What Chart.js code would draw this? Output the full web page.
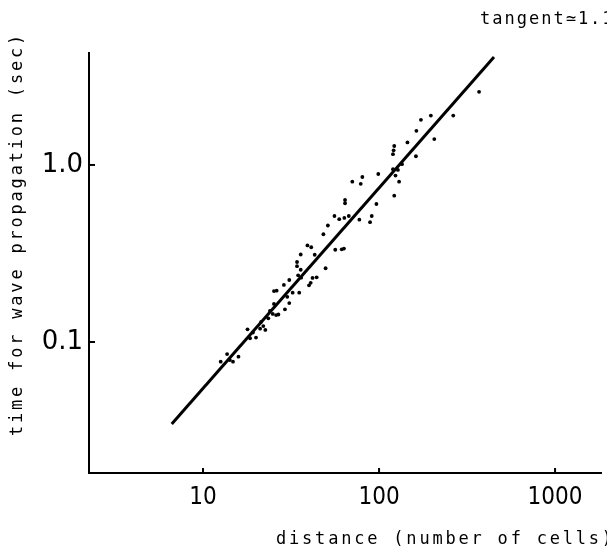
<!DOCTYPE html>
<html>
<head>
<meta charset="utf-8">
<script src="https://cdn.jsdelivr.net/npm/chart.js@4/dist/chart.umd.min.js"></script>
<style>
  body { margin: 0; background: #fff; }
  #wrap { width: 607px; height: 554px; }
</style>
</head>
<body>
<div id="wrap"><canvas id="waveChart" width="607" height="554"></canvas></div>
<script>
// measured points: distance (cells) / time (sec)
const distance = [
  64.1, 64.1, 55.8, 59.4, 63.5, 67.3, 51.2, 48.3, 39.2, 41.2,
  56.4, 61.4, 63.2, 35.9, 43.1, 34.2, 34.2, 49.7, 35.9, 34.7,
  36.1, 44.2, 41.9, 30.9, 40.9, 40.0, 28.8, 25.3, 26.2, 35.2,
  32.3, 30.1, 30.9, 29.2, 25.3, 24.0, 24.9, 26.0, 26.8, 23.5,
  21.4, 22.0, 21.1, 22.6, 17.9, 19.2, 18.5, 20.0, 13.7, 15.9,
  12.6, 14.8, 14.2,
  370, 264, 197, 173, 163, 206, 145, 122, 121, 120,
  162, 135, 120, 128, 99, 124, 80.4, 70.5, 78.7, 130,
  122, 96.6, 90.9, 77.3, 88.9
];
const time = [
  0.634, 0.608, 0.515, 0.494, 0.502, 0.515, 0.455, 0.406, 0.351, 0.343,
  0.332, 0.334, 0.337, 0.312, 0.311, 0.283, 0.268, 0.261, 0.256, 0.238,
  0.231, 0.232, 0.230, 0.224, 0.216, 0.209, 0.210, 0.194, 0.195, 0.190,
  0.190, 0.180, 0.166, 0.153, 0.164, 0.150, 0.144, 0.142, 0.143, 0.136,
  0.130, 0.123, 0.119, 0.117, 0.118, 0.113, 0.105, 0.106, 0.0855, 0.0826,
  0.0774, 0.0774, 0.0791,
  2.59, 1.90, 1.90, 1.80, 1.56, 1.40, 1.34, 1.28, 1.21, 1.15,
  1.12, 1.01, 0.946, 0.937, 0.889, 0.871, 0.855, 0.805, 0.782, 0.805,
  0.671, 0.602, 0.515, 0.491, 0.475
];

// fitted line (tangent ~1.1)
const fitX = [6.64, 450];
const fitY = [0.0344, 4.07];

// tick labels
const xTicks = [10, 100, 1000];
const yTicks = [0.1, 1];
const yTickText = ['0.1', '1.0'];

const scatterPts = distance.map((d, i) => ({ x: d, y: time[i] }));
const fitPts = fitX.map((d, i) => ({ x: d, y: fitY[i] }));

// inward tick marks + axis titles
const paperPlugin = {
  id: 'paper',
  afterDraw(chart) {
    const ctx = chart.ctx;
    const xs = chart.scales.x, ys = chart.scales.y;
    const area = chart.chartArea;
    ctx.save();
    ctx.strokeStyle = '#000';
    ctx.lineWidth = 2;
    xTicks.forEach(v => {
      const px = xs.getPixelForValue(v);
      ctx.beginPath();
      ctx.moveTo(px, area.bottom);
      ctx.lineTo(px, area.bottom - 5);
      ctx.stroke();
    });
    yTicks.forEach(v => {
      const py = ys.getPixelForValue(v);
      ctx.beginPath();
      ctx.moveTo(area.left, py);
      ctx.lineTo(area.left + 6, py);
      ctx.stroke();
    });

    ctx.fillStyle = '#000';
    ctx.font = '17px "DejaVu Sans Mono", monospace';
    ctx.letterSpacing = '2.8px';
    ctx.textBaseline = 'alphabetic';

    // x title
    ctx.textAlign = 'left';
    ctx.fillText('distance (number of cells)', 276, 544);

    // tangent note
    ctx.letterSpacing = '2px';
    ctx.fillText('tangent\u22431.1', 480, 24);

    // y title
    ctx.letterSpacing = '2.8px';
    ctx.translate(22, 234);
    ctx.rotate(-Math.PI / 2);
    ctx.textAlign = 'center';
    ctx.fillText('time for wave propagation (sec)', 0, 0);
    ctx.restore();
  }
};

new Chart(document.getElementById('waveChart').getContext('2d'), {
  type: 'scatter',
  data: {
    datasets: [
      {
        data: scatterPts,
        backgroundColor: '#000',
        borderColor: '#000',
        pointRadius: 1.9,
        pointBorderWidth: 0
      },
      {
        type: 'line',
        data: fitPts,
        borderColor: '#000',
        borderWidth: 3,
        pointRadius: 0,
        fill: false,
        tension: 0
      }
    ]
  },
  options: {
    responsive: false,
    animation: false,
    layout: { padding: { top: 53, right: 6, left: 0, bottom: 0 } },
    plugins: {
      legend: { display: false },
      tooltip: { enabled: false }
    },
    scales: {
      x: {
        type: 'logarithmic',
        min: 2.25,
        max: 1824,
        afterBuildTicks: s => { s.ticks = xTicks.map(v => ({ value: v })); },
        afterFit: s => { s.height = 81; },
        grid: { display: true, drawOnChartArea: false, drawTicks: false },
        border: { display: true, color: '#000', width: 2 },
        ticks: {
          color: '#000',
          padding: 10,
          maxRotation: 0,
          autoSkip: false,
          font: { family: '"Liberation Sans Narrow", "DejaVu Sans Condensed", sans-serif', size: 24 },
          callback: v => String(v)
        }
      },
      y: {
        type: 'logarithmic',
        min: 0.0182,
        max: 4.29,
        afterBuildTicks: s => { s.ticks = yTicks.map(v => ({ value: v })); },
        afterFit: s => { s.width = 89; },
        grid: { display: true, drawOnChartArea: false, drawTicks: false },
        border: { display: true, color: '#000', width: 2 },
        ticks: {
          color: '#000',
          padding: 6,
          autoSkip: false,
          font: { family: '"DejaVu Sans", sans-serif', size: 26 },
          callback: v => yTickText[yTicks.indexOf(v)] ?? ''
        }
      }
    }
  },
  plugins: [paperPlugin]
});
</script>
</body>
</html>
